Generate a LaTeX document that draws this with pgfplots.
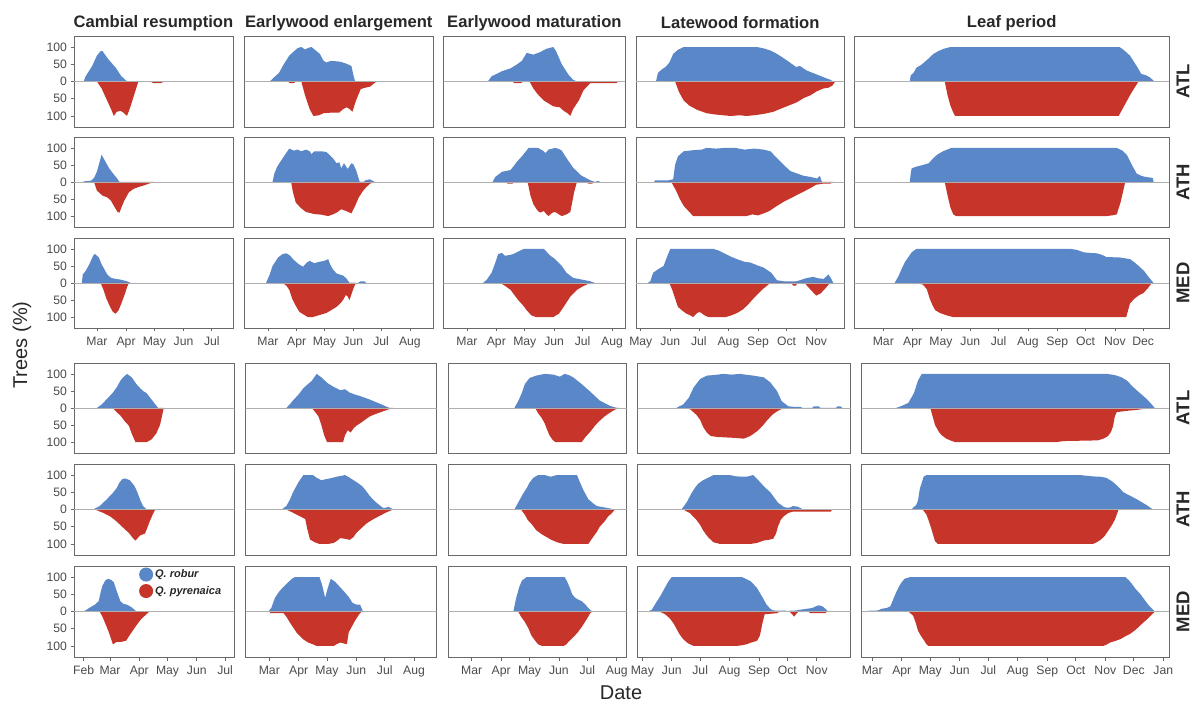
\documentclass[border=0pt]{standalone}
\usepackage{fontspec}
\setmainfont{Liberation Sans}
\usepackage{pgfplots}
\pgfplotsset{compat=1.18}
\definecolor{qblue}{RGB}{90,135,200}
\definecolor{qred}{RGB}{198,52,42}
\definecolor{brd}{RGB}{105,105,105}
\definecolor{zlc}{RGB}{175,175,175}
\definecolor{tlc}{RGB}{75,75,75}
\definecolor{ttc}{RGB}{40,40,40}
\pgfplotsset{
  pan/.style={scale only axis, anchor=south west, ymin=-132, ymax=132,
    axis line style={brd, line width=0.8pt},
    xtick=\empty, ytick=\empty,
    tick style={brd, line width=0.7pt},
    major tick length=3.5pt, tick align=outside,
    xtick pos=left, ytick pos=left,
    ticklabel style={font=\fontsize{12.2}{13}\selectfont, text=tlc},
    xticklabel style={anchor=north, text height=9pt, text depth=2.5pt, inner sep=2pt, yshift=-2.5pt},
    /pgf/number format/assume math mode=true},
  ylab/.style={ytick={-100,-50,0,50,100}, yticklabels={100,50,0,50,100}},
  mA/.style={xtick={60,91,121,152,182}, xticklabels={Mar,Apr,May,Jun,Jul}},
  mB/.style={xtick={60,91,121,152,182,213}, xticklabels={Mar,Apr,May,Jun,Jul,Aug}},
  mC/.style={xtick={121,152,182,213,244,274,305}, xticklabels={May,Jun,Jul,Aug,Sep,Oct,Nov}},
  mD/.style={xtick={60,91,121,152,182,213,244,274,305,335}, xticklabels={Mar,Apr,May,Jun,Jul,Aug,Sep,Oct,Nov,Dec}},
  mE/.style={xtick={32,60,91,121,152,182}, xticklabels={Feb,Mar,Apr,May,Jun,Jul}},
  mF/.style={xtick={60,91,121,152,182,213,244,274,305,335,366}, xticklabels={Mar,Apr,May,Jun,Jul,Aug,Sep,Oct,Nov,Dec,Jan}},
  % top group columns
  tc1/.style={at={(74pt,#1)}, width=159pt, xmin=35.7, xmax=204.5},
  tc2/.style={at={(244.5pt,#1)}, width=188.5pt, xmin=34.8, xmax=237.9},
  tc3/.style={at={(443.5pt,#1)}, width=181.8pt, xmin=35.3, xmax=227},
  tc4/.style={at={(636pt,#1)}, width=208.3pt, xmin=116, xmax=334.6},
  tc5/.style={at={(854.3pt,#1)}, width=314.7pt, xmin=29.3, xmax=362.3},
  % bottom group columns
  bc1/.style={at={(74pt,#1)}, width=160.3pt, xmin=21.8, xmax=191.8},
  bc2/.style={at={(245.7pt,#1)}, width=191pt, xmin=35, xmax=237},
  bc3/.style={at={(448.3pt,#1)}, width=178.4pt, xmin=35.3, xmax=223.5},
  bc4/.style={at={(637.7pt,#1)}, width=213pt, xmin=116.1, xmax=340.8},
  bc5/.style={at={(861.7pt,#1)}, width=307.3pt, xmin=48.9, xmax=372},
  r1/.style={height=91pt}, r2/.style={height=90pt}, r3/.style={height=90pt},
  r4/.style={height=90pt}, r5/.style={height=91pt}, r6/.style={height=91pt},
}
\newcommand\zero{\addplot[zlc, line width=0.6pt, forget plot] coordinates {(0,0) (400,0)};}
\newcommand\bl{\addplot[fill=qblue, draw=none]}
\newcommand\rd{\addplot[fill=qred, draw=none]}
\begin{document}
\begin{tikzpicture}
\useasboundingbox (0,0) rectangle (1196pt,704pt);
% ---------------- Row 1 (ATL, top) ----------------
\begin{axis}[pan, tc1={577pt}, r1, ylab]
\bl coordinates {(46,0)(48,15)(55,45)(60,75)(64,88)(66,88)(72,65)(80,40)(86,15)(89,8)(92,0)} \closedcycle;
\rd coordinates {(60,0)(65,-20)(70,-50)(75,-80)(78,-100)(81,-88)(85,-85)(88,-90)(92,-100)(96,-70)(100,-35)(104,0)(117,0)(120,-5)(128,-5)(131,0)} \closedcycle;
\zero
\end{axis}
\begin{axis}[pan, tc2={577pt}, r1]
\bl coordinates {(62,0)(65,8)(72,25)(76,45)(83,75)(92,97)(96,100)(100,93)(104,98)(107,100)(116,80)(120,60)(123,55)(128,60)(136,58)(141,55)(146,50)(150,45)(152,20)(154,0)} \closedcycle;
\rd coordinates {(81,0)(84,-5)(88,-5)(90,0)(96,0)(100,-40)(105,-80)(109,-100)(115,-98)(120,-92)(130,-90)(137,-90)(141,-80)(145,-75)(148,-80)(151,-88)(155,-55)(160,-22)(165,-18)(170,-15)(177,0)} \closedcycle;
\zero
\end{axis}
\begin{axis}[pan, tc3={577pt}, r1]
\bl coordinates {(82,0)(86,15)(97,30)(106,38)(113,50)(118,60)(123,83)(130,78)(137,85)(144,95)(151,100)(154,88)(160,50)(167,20)(172,5)(176,0)} \closedcycle;
\rd coordinates {(108,0)(110,-5)(117,-5)(119,0)(126,0)(130,-20)(134,-35)(141,-55)(151,-72)(158,-75)(162,-85)(166,-92)(169,-100)(172,-80)(178,-55)(183,-25)(190,-5)(218,-5)(219,0)} \closedcycle;
\zero
\end{axis}
\begin{axis}[pan, tc4={577pt}, r1]
\bl coordinates {(137,0)(139,25)(143,35)(147,42)(151,55)(155,80)(160,92)(166,100)(243,100)(250,96)(257,90)(264,80)(274,62)(284,42)(288,45)(295,32)(306,20)(315,10)(320,5)(323,0)} \closedcycle;
\rd coordinates {(157,0)(161,-30)(166,-55)(172,-70)(180,-82)(190,-92)(200,-96)(215,-100)(225,-98)(232,-100)(240,-98)(250,-94)(260,-88)(267,-80)(276,-70)(285,-60)(292,-48)(299,-40)(306,-28)(313,-20)(318,-18)(322,-12)(325,0)} \closedcycle;
\zero
\end{axis}
\begin{axis}[pan, tc5={577pt}, r1]
\bl coordinates {(88,0)(89,18)(92,25)(95,40)(100,48)(106,62)(113,80)(118,88)(124,95)(131,100)(310,100)(315,90)(321,75)(328,45)(333,22)(338,18)(342,12)(347,0)} \closedcycle;
\rd coordinates {(125,0)(128,-40)(131,-70)(134,-90)(136,-100)(309,-100)(315,-70)(322,-35)(330,0)} \closedcycle;
\zero
\end{axis}
% ---------------- Row 2 (ATH, top) ----------------
\begin{axis}[pan, tc1={477pt}, r2, ylab]
\bl coordinates {(45,0)(47,2)(54,4)(57,12)(60,30)(63,60)(65,80)(68,65)(73,40)(78,22)(81,12)(84,0)} \closedcycle;
\rd coordinates {(57,0)(60,-25)(66,-40)(71,-45)(75,-55)(78,-70)(82,-88)(84,-90)(86,-75)(89,-55)(94,-30)(99,-20)(105,-14)(110,-10)(115,-5)(121,0)} \closedcycle;
\zero
\end{axis}
\begin{axis}[pan, tc2={477pt}, r2]
\bl coordinates {(65,0)(67,25)(70,45)(76,70)(83,98)(88,92)(92,95)(96,90)(101,95)(105,90)(107,82)(110,90)(118,90)(123,88)(130,70)(134,55)(137,58)(139,40)(142,55)(146,38)(150,55)(152,52)(155,35)(159,0)(163,0)(165,5)(170,8)(175,0)} \closedcycle;
\rd coordinates {(85,0)(87,-30)(90,-60)(95,-75)(101,-88)(110,-94)(118,-96)(125,-100)(130,-95)(134,-90)(139,-80)(144,-85)(150,-92)(154,-70)(158,-45)(162,-28)(166,-15)(170,-5)(175,0)} \closedcycle;
\zero
\end{axis}
\begin{axis}[pan, tc3={477pt}, r2]
\bl coordinates {(87,0)(90,15)(97,30)(106,35)(113,60)(120,82)(125,100)(135,100)(140,92)(143,85)(146,95)(153,100)(157,97)(160,92)(165,70)(172,42)(180,20)(190,5)(195,0)(198,3)(201,0)} \closedcycle;
\rd coordinates {(101,0)(103,-5)(108,-5)(110,0)(124,0)(127,-40)(130,-65)(134,-82)(137,-90)(141,-85)(144,-95)(146,-100)(150,-90)(153,-88)(157,-95)(160,-100)(165,-95)(169,-88)(171,-60)(173,-30)(176,0)(186,0)(188,-5)(192,-5)(194,0)} \closedcycle;
\zero
\end{axis}
\begin{axis}[pan, tc4={477pt}, r2]
\bl coordinates {(135,0)(136,5)(150,5)(155,8)(157,50)(160,75)(166,90)(175,93)(185,95)(190,100)(200,98)(210,100)(220,100)(230,95)(240,98)(250,95)(257,90)(264,70)(271,50)(278,32)(285,25)(292,18)(299,15)(306,10)(309,18)(311,0)} \closedcycle;
\rd coordinates {(153,0)(158,-25)(162,-50)(166,-70)(171,-85)(176,-100)(232,-100)(238,-95)(244,-98)(250,-92)(256,-85)(264,-70)(271,-58)(278,-48)(285,-38)(292,-28)(299,-18)(305,-8)(312,-5)(320,-5)(323,0)} \closedcycle;
\zero
\end{axis}
\begin{axis}[pan, tc5={477pt}, r2]
\bl coordinates {(88,0)(89,25)(90,40)(95,45)(102,50)(108,55)(113,70)(117,80)(123,90)(132,100)(307,100)(313,92)(318,78)(323,50)(328,25)(333,18)(337,15)(345,12)(346,0)} \closedcycle;
\rd coordinates {(125,0)(128,-40)(131,-75)(134,-95)(137,-100)(296,-100)(302,-98)(307,-95)(311,-60)(316,0)} \closedcycle;
\zero
\end{axis}
% ---------------- Row 3 (MED, top) ----------------
\begin{axis}[pan, tc1={376pt}, r3, ylab, mA]
\bl coordinates {(44,0)(45,25)(48,35)(52,55)(56,80)(58,85)(62,75)(65,55)(68,40)(71,25)(75,15)(80,12)(85,10)(92,5)(96,0)} \closedcycle;
\rd coordinates {(64,0)(67,-20)(70,-45)(74,-70)(77,-85)(80,-90)(83,-80)(86,-60)(90,-30)(92,-12)(94,0)} \closedcycle;
\zero
\end{axis}
\begin{axis}[pan, tc2={376pt}, r3, mB]
\bl coordinates {(58,0)(62,25)(65,50)(71,75)(76,85)(80,87)(84,80)(87,70)(92,58)(95,52)(98,48)(102,60)(105,65)(110,58)(115,62)(121,65)(125,70)(127,55)(130,40)(134,28)(137,25)(141,22)(145,12)(148,0)(157,0)(160,5)(164,5)(166,0)} \closedcycle;
\rd coordinates {(76,0)(80,-8)(83,-20)(86,-45)(89,-62)(94,-85)(100,-95)(103,-100)(108,-100)(112,-97)(118,-92)(123,-88)(128,-80)(134,-70)(138,-60)(141,-50)(144,-35)(146,-40)(148,-50)(151,-25)(153,-10)(155,0)} \closedcycle;
\zero
\end{axis}
\begin{axis}[pan, tc3={376pt}, r3, mB]
\bl coordinates {(77,0)(81,10)(86,30)(90,60)(93,85)(97,88)(100,80)(105,82)(109,85)(116,95)(120,100)(141,100)(148,80)(153,70)(160,50)(165,30)(172,15)(181,10)(190,5)(195,0)} \closedcycle;
\rd coordinates {(95,0)(100,-8)(106,-20)(110,-35)(114,-50)(119,-65)(123,-80)(128,-95)(133,-100)(151,-100)(157,-90)(162,-70)(169,-40)(176,-20)(182,-10)(186,-5)(190,0)} \closedcycle;
\zero
\end{axis}
\begin{axis}[pan, tc4={376pt}, r3, mC]
\bl coordinates {(128,0)(131,5)(134,30)(139,40)(145,50)(149,80)(152,100)(197,100)(203,95)(208,88)(215,78)(222,70)(230,62)(236,60)(243,52)(250,45)(258,30)(262,15)(264,8)(271,5)(284,5)(288,8)(292,12)(296,15)(302,18)(307,14)(313,12)(316,20)(318,25)(321,12)(323,0)} \closedcycle;
\rd coordinates {(151,0)(154,-20)(157,-45)(160,-70)(165,-82)(169,-90)(173,-95)(176,-100)(180,-88)(183,-85)(188,-95)(192,-100)(210,-100)(216,-95)(222,-88)(228,-78)(233,-65)(241,-40)(249,-18)(257,0)(279,0)(281,-8)(284,-8)(285,0)(293,0)(296,-10)(301,-25)(305,-37)(310,-30)(314,-18)(318,-5)(320,0)} \closedcycle;
\zero
\end{axis}
\begin{axis}[pan, tc5={376pt}, r3, mD]
\bl coordinates {(72,0)(74,10)(76,20)(80,45)(83,62)(87,78)(90,90)(95,100)(258,100)(265,97)(272,90)(280,88)(286,87)(292,82)(296,76)(310,75)(321,70)(326,60)(331,48)(336,35)(340,20)(346,0)} \closedcycle;
\rd coordinates {(95,0)(102,-5)(106,-18)(109,-45)(112,-65)(115,-80)(120,-88)(127,-95)(134,-100)(317,-100)(319,-80)(321,-60)(326,-45)(331,-35)(335,-30)(340,-15)(344,0)} \closedcycle;
\zero
\end{axis}
% ---------------- Row 4 (ATL, bottom) ----------------
\begin{axis}[pan, bc1={251pt}, r4, ylab]
\bl coordinates {(46,0)(51,10)(58,30)(63,45)(67,60)(71,80)(74,90)(78,100)(83,90)(88,70)(92,58)(95,50)(99,43)(102,32)(106,18)(111,0)} \closedcycle;
\rd coordinates {(63,0)(67,-12)(71,-22)(76,-40)(80,-52)(83,-75)(87,-100)(99,-100)(104,-92)(109,-75)(113,-50)(115,-25)(117,0)} \closedcycle;
\zero
\end{axis}
\begin{axis}[pan, bc2={251pt}, r4]
\bl coordinates {(78,0)(82,12)(85,22)(91,40)(96,58)(100,68)(105,80)(110,100)(115,90)(122,72)(128,62)(135,52)(140,55)(145,45)(150,40)(156,35)(166,25)(172,18)(179,10)(187,0)} \closedcycle;
\rd coordinates {(105,0)(108,-10)(112,-25)(115,-50)(118,-80)(121,-100)(138,-100)(140,-80)(143,-65)(146,-72)(149,-60)(152,-52)(156,-45)(161,-35)(166,-25)(172,-18)(180,-10)(185,-5)(191,0)} \closedcycle;
\zero
\end{axis}
\begin{axis}[pan, bc3={251pt}, r4]
\bl coordinates {(105,0)(109,20)(113,45)(116,70)(121,88)(128,95)(137,100)(146,98)(153,92)(158,100)(162,97)(167,90)(176,70)(185,48)(195,22)(206,6)(213,0)} \closedcycle;
\rd coordinates {(127,0)(130,-15)(134,-30)(137,-45)(139,-60)(142,-80)(145,-92)(148,-100)(176,-100)(180,-85)(185,-70)(190,-52)(194,-40)(200,-25)(205,-15)(211,-5)(216,0)} \closedcycle;
\zero
\end{axis}
\begin{axis}[pan, bc4={251pt}, r4]
\bl coordinates {(157,0)(160,5)(164,10)(170,30)(175,60)(182,85)(189,95)(198,97)(206,100)(215,98)(224,100)(232,97)(238,95)(249,90)(256,75)(263,50)(268,20)(275,5)(282,3)(288,3)(290,0)(300,0)(302,5)(307,5)(309,0)(325,0)(327,5)(330,5)(332,0)} \closedcycle;
\rd coordinates {(168,0)(172,-5)(178,-20)(182,-35)(185,-55)(189,-72)(193,-82)(200,-85)(214,-87)(220,-88)(228,-90)(235,-82)(242,-68)(248,-52)(252,-38)(258,-20)(263,-10)(270,0)} \closedcycle;
\zero
\end{axis}
\begin{axis}[pan, bc5={251pt}, r4]
\bl coordinates {(85,0)(90,5)(94,10)(98,15)(101,30)(104,45)(108,80)(112,100)(306,100)(312,98)(317,95)(322,90)(328,80)(333,65)(338,52)(343,40)(349,25)(354,10)(357,0)} \closedcycle;
\rd coordinates {(121,0)(123,-20)(126,-50)(130,-70)(133,-80)(138,-90)(142,-95)(147,-100)(254,-100)(261,-97)(297,-95)(303,-90)(308,-82)(311,-70)(313,-55)(315,-25)(317,-12)(329,-8)(340,-5)(350,0)} \closedcycle;
\zero
\end{axis}
% ---------------- Row 5 (ATH, bottom) ----------------
\begin{axis}[pan, bc1={149pt}, r5, ylab]
\bl coordinates {(42,0)(49,10)(56,28)(63,48)(67,62)(70,78)(73,88)(76,90)(81,85)(86,68)(89,50)(92,28)(95,10)(99,0)} \closedcycle;
\rd coordinates {(44,0)(53,-10)(60,-20)(65,-30)(69,-40)(76,-58)(80,-68)(84,-82)(87,-90)(92,-75)(97,-70)(100,-50)(102,-35)(106,-10)(108,0)} \closedcycle;
\zero
\end{axis}
\begin{axis}[pan, bc2={149pt}, r5]
\bl coordinates {(73,0)(78,10)(82,30)(85,50)(91,80)(96,100)(106,100)(110,92)(115,85)(120,88)(124,90)(131,95)(137,98)(140,100)(145,92)(149,85)(153,78)(158,68)(162,55)(166,40)(170,28)(174,18)(180,5)(183,5)(186,8)(191,0)} \closedcycle;
\rd coordinates {(78,0)(84,-8)(89,-15)(94,-22)(98,-28)(100,-55)(103,-87)(108,-95)(113,-100)(122,-100)(128,-97)(131,-92)(135,-83)(140,-85)(145,-88)(149,-80)(152,-68)(157,-55)(163,-40)(170,-28)(177,-18)(184,-8)(191,0)} \closedcycle;
\zero
\end{axis}
\begin{axis}[pan, bc3={149pt}, r5]
\bl coordinates {(105,0)(108,15)(111,30)(114,45)(118,62)(121,78)(125,92)(130,100)(137,100)(143,95)(150,100)(171,100)(174,80)(178,55)(183,30)(188,18)(192,10)(202,5)(211,0)} \closedcycle;
\rd coordinates {(112,0)(116,-15)(119,-30)(124,-45)(128,-60)(134,-72)(139,-80)(144,-88)(150,-95)(157,-100)(183,-100)(185,-92)(188,-80)(192,-65)(195,-50)(200,-35)(204,-20)(208,-10)(211,0)} \closedcycle;
\zero
\end{axis}
\begin{axis}[pan, bc4={149pt}, r5]
\bl coordinates {(162,0)(165,10)(168,22)(173,48)(177,65)(180,75)(185,85)(189,90)(196,100)(213,100)(220,96)(231,95)(238,100)(245,80)(250,65)(256,50)(260,35)(264,20)(270,8)(273,5)(277,6)(280,10)(285,8)(287,5)(291,0)} \closedcycle;
\rd coordinates {(164,0)(171,-10)(178,-30)(182,-45)(185,-60)(188,-72)(191,-82)(196,-95)(203,-100)(235,-100)(242,-97)(249,-90)(254,-88)(259,-85)(262,-70)(264,-50)(267,-30)(270,-20)(275,-10)(280,-6)(320,-6)(321,0)} \closedcycle;
\zero
\end{axis}
\begin{axis}[pan, bc5={149pt}, r5]
\bl coordinates {(101,0)(104,8)(106,12)(108,25)(110,60)(114,95)(117,100)(278,100)(285,98)(292,96)(300,95)(306,92)(312,82)(315,75)(320,62)(324,50)(331,40)(338,30)(344,20)(350,10)(355,0)} \closedcycle;
\rd coordinates {(113,0)(117,-15)(119,-30)(122,-55)(126,-92)(129,-100)(292,-100)(296,-95)(300,-88)(304,-78)(308,-62)(312,-45)(315,-30)(319,0)} \closedcycle;
\zero
\end{axis}
% ---------------- Row 6 (MED, bottom) ----------------
\begin{axis}[pan, bc1={47pt}, r6, ylab, mE,
  legend style={at={(0.405,0.985)}, anchor=north west, draw=none, fill=none,
    font=\fontsize{11}{12}\selectfont\bfseries\itshape, text=ttc, row sep=2.5pt, inner sep=0pt},
  legend cell align=left,
  legend image code/.code={\fill[#1] (0pt,0pt) circle (7pt);}]
\bl coordinates {(32,0)(35,5)(39,12)(44,20)(48,30)(50,55)(52,75)(55,90)(58,95)(61,92)(64,85)(67,60)(71,30)(74,22)(78,20)(83,12)(86,5)(88,0)} \closedcycle;
\addlegendentry{Q. robur}
\rd coordinates {(49,0)(52,-15)(55,-35)(58,-55)(60,-70)(63,-95)(65,-92)(67,-88)(72,-88)(77,-85)(80,-72)(83,-60)(88,-40)(93,-22)(99,-7)(102,0)} \closedcycle;
\addlegendentry{Q. pyrenaica}
\zero
\end{axis}
\begin{axis}[pan, bc2={47pt}, r6, mB]
\bl coordinates {(59,0)(62,10)(66,40)(71,60)(78,80)(84,95)(87,100)(113,100)(116,75)(119,40)(122,70)(125,95)(130,85)(135,70)(140,55)(144,42)(148,25)(152,20)(156,20)(159,0)} \closedcycle;
\rd coordinates {(60,0)(61,-5)(75,-5)(78,-15)(82,-33)(89,-62)(96,-81)(101,-90)(106,-95)(110,-100)(128,-100)(131,-95)(135,-90)(142,-95)(144,-60)(147,-45)(151,-25)(155,-8)(158,0)} \closedcycle;
\zero
\end{axis}
\begin{axis}[pan, bc3={47pt}, r6, mB]
\bl coordinates {(104,0)(105,15)(107,40)(110,70)(113,90)(118,100)(158,100)(161,85)(164,65)(166,50)(169,40)(172,35)(176,30)(180,20)(183,10)(187,0)} \closedcycle;
\rd coordinates {(109,0)(112,-15)(116,-30)(120,-50)(123,-70)(127,-85)(130,-95)(134,-100)(157,-100)(160,-95)(162,-88)(167,-75)(172,-60)(176,-45)(180,-28)(185,-5)(187,0)} \closedcycle;
\zero
\end{axis}
\begin{axis}[pan, bc4={47pt}, r6, mC]
\bl coordinates {(127,0)(131,5)(136,28)(140,45)(143,60)(148,85)(152,100)(226,100)(230,95)(235,88)(238,80)(242,68)(248,40)(252,20)(256,8)(259,3)(275,2)(283,3)(287,5)(295,8)(300,10)(304,15)(307,18)(311,15)(314,8)(317,0)} \closedcycle;
\rd coordinates {(139,0)(145,-8)(150,-20)(154,-35)(157,-50)(160,-65)(164,-80)(169,-92)(175,-100)(220,-100)(226,-98)(231,-95)(236,-90)(242,-85)(245,-70)(248,-30)(250,-8)(263,-5)(266,0)(276,0)(279,-8)(281,-15)(284,-5)(286,0)(296,0)(298,-5)(314,-5)(316,0)} \closedcycle;
\zero
\end{axis}
\begin{axis}[pan, bc5={47pt}, r6, mF]
\bl coordinates {(54,0)(55,2)(66,3)(70,8)(75,10)(79,15)(82,35)(85,55)(88,72)(91,85)(94,95)(100,100)(326,100)(330,90)(333,80)(337,65)(342,50)(346,35)(350,20)(357,0)} \closedcycle;
\rd coordinates {(98,0)(100,-5)(103,-12)(106,-35)(108,-55)(111,-70)(114,-82)(117,-95)(119,-100)(303,-100)(307,-95)(310,-90)(316,-85)(321,-80)(326,-72)(331,-65)(336,-55)(340,-45)(345,-32)(350,-20)(357,0)} \closedcycle;
\zero
\end{axis}
% ---------------- Titles and labels ----------------
\begin{scope}[every node/.style={font=\fontsize{16.6}{18}\selectfont\bfseries, text=ttc}]
\node at (153.5pt,681pt) {Cambial resumption};
\node at (338.8pt,681pt) {Earlywood enlargement};
\node at (534.4pt,681pt) {Earlywood maturation};
\node at (740.2pt,681pt) {Latewood formation};
\node at (1011.7pt,681pt) {Leaf period};
\end{scope}
\begin{scope}[every node/.style={font=\fontsize{18.5}{20}\selectfont\bfseries, text=ttc, rotate=90}]
\node at (1183pt,622.5pt) {ATL};
\node at (1183pt,522pt) {ATH};
\node at (1183pt,421pt) {MED};
\node at (1183pt,296pt) {ATL};
\node at (1183pt,194.5pt) {ATH};
\node at (1183pt,92.5pt) {MED};
\end{scope}
\node[font=\fontsize{20}{22}\selectfont, text=ttc, rotate=90] at (22pt,359pt) {Trees (\%)};
\node[font=\fontsize{20}{22}\selectfont, text=ttc] at (621pt,11pt) {Date};
\end{tikzpicture}
\end{document}
